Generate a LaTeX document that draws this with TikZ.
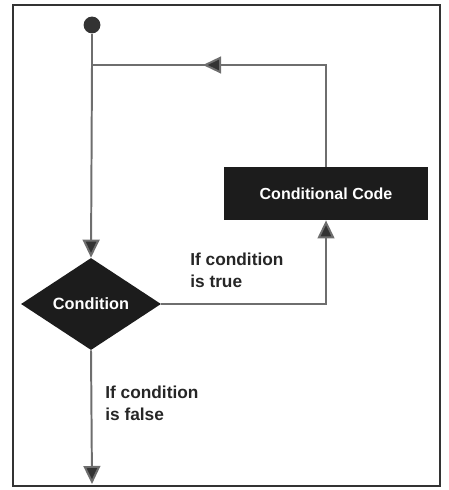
\documentclass[tikz,border=0pt]{standalone}
\usepackage{fontspec}
\setmainfont{Liberation Sans}
\usepackage{tikz}
\usetikzlibrary{shapes.geometric,arrows.meta}
\definecolor{linegray}{HTML}{6E6E6E}
\definecolor{tipgray}{HTML}{333333}
\definecolor{boxblack}{HTML}{1C1C1C}
\tikzset{
  flowline/.style={line width=1.4pt,draw=linegray},
  flowarrow/.style={flowline,-{Triangle[length=0.45cm,width=0.42cm,fill=tipgray]}},
  decision/.style={shape=diamond,fill=boxblack,inner sep=0pt,aspect=1.5,
    minimum width=3.5cm,minimum height=2.3cm,text=white,
    font=\bfseries\fontsize{11.6}{14}\selectfont},
  process/.style={rectangle,fill=boxblack,minimum width=5.1cm,minimum height=1.33cm,
    text=white,font=\bfseries\fontsize{11.4}{14}\selectfont},
  note/.style={align=left,inner sep=0pt,anchor=north west,
    font=\bfseries\fontsize{12.3}{15.6}\selectfont,text=black!85}
}

\begin{document}
\begin{tikzpicture}[x=0.025cm,y=-0.025cm]
\useasboundingbox (0,0) rectangle (448,490);
\draw [line width=1.8pt,draw=tipgray] (13,5) rectangle (440,486);
% start point and the loop
\node [circle,fill=tipgray,inner sep=0pt,minimum size=0.42cm] (start) at (92,25) {};
\node [decision] (cond) at (91,304) {Condition};
\node [process] (code) at (326,193.5) {Conditional Code};
\coordinate (join) at (92,65);
\coordinate (back) at (203,65);
\coordinate (out) at (92,484);
\draw [flowline] (start) -- (join);
\draw [flowarrow] (join) -- (cond.north);
\draw [flowline] (code.north) |- (join);
\draw [flowarrow] (code.north |- join) -- (back);
\draw [flowarrow] (cond.east) -| (code.south);
\draw [flowarrow] (cond.south) -- (out);
% the branch labels:
\node [note] (truelbl) at (190,253) {If condition\\is true};
\node [note] (falselbl) at (105,386) {If condition\\is false};
\end{tikzpicture}
\end{document}
